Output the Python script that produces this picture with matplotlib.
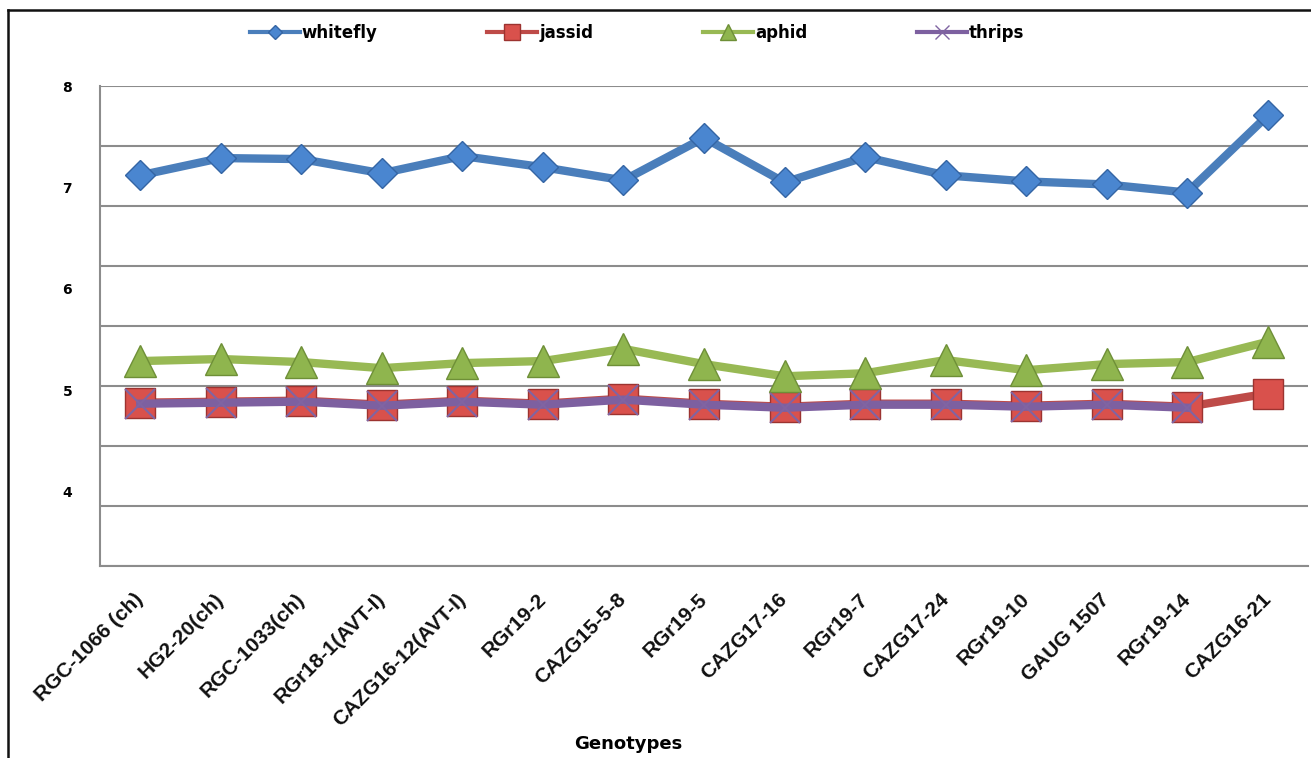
import numpy as np
import matplotlib
matplotlib.use("Agg")
import matplotlib.pyplot as plt
from matplotlib.lines import Line2D

genotypes = ["RGC-1066 (ch)", "HG2-20(ch)", "RGC-1033(ch)", "RGr18-1(AVT-I)",
             "CAZG16-12(AVT-I)", "RGr19-2", "CAZG15-5-8", "RGr19-5", "CAZG17-16",
             "RGr19-7", "CAZG17-24", "RGr19-10", "GAUG 1507", "RGr19-14", "CAZG16-21"]

whitefly = [7.12, 7.29, 7.28, 7.14, 7.31, 7.20, 7.07, 7.49, 7.05, 7.30, 7.12, 7.06, 7.03, 6.95, 7.71]
jassid = [4.88, 4.89, 4.90, 4.86, 4.90, 4.87, 4.92, 4.87, 4.84, 4.87, 4.87, 4.85, 4.87, 4.84, 4.97]
aphid = [5.29, 5.31, 5.28, 5.22, 5.27, 5.29, 5.41, 5.26, 5.14, 5.17, 5.30, 5.20, 5.26, 5.28, 5.48]
thrips = [4.87, 4.88, 4.89, 4.85, 4.89, 4.86, 4.91, 4.86, 4.83, 4.86, 4.86, 4.84, 4.86, 4.83, np.nan]

y_labels = [8, 7, 6, 5, 4]

W, H = 1311, 758
fig = plt.figure(figsize=(W / 100, H / 100), dpi=100)
ax = fig.add_axes([100 / W, 1 - 566 / H, 1208 / W, 480 / H])

x = np.arange(len(genotypes))

# line / marker styles per series
styles = [
    (whitefly, "whitefly", "#4a7ebb", dict(marker="D", ms=15, mfc="#4a86d0", mec="#3465a4", mew=1)),
    (jassid, "jassid", "#be4b48", dict(marker="s", ms=22, mfc="#d9514c", mec="#9c3330", mew=1)),
    (aphid, "aphid", "#98b954", dict(marker="^", ms=23, mfc="#8fb54e", mec="#6e8f37", mew=1)),
    (thrips, "thrips", "#7d60a0", dict(marker="x", ms=21, mec="#8064a2", mew=1.5)),
]

for vals, name, col, mk in styles:
    ax.plot(x, vals, color=col, lw=6, label=name, solid_joinstyle="miter", **mk)

ax.set_xlim(-0.5, len(genotypes) - 0.5)
top = 8.0
step = 60 / 101.5
ax.set_ylim(top - 8 * step, top)

# gridlines
ax.yaxis.remove_overlapping_locs = False
ax.set_yticks([top - k * step for k in range(9)])
ax.yaxis.set_major_formatter(plt.NullFormatter())
ax.tick_params(axis="y", which="major", length=0)
ax.grid(axis="y", color="#8c8c8c", lw=1.5)
ax.set_axisbelow(True)

# value labels
ax.set_yticks(y_labels, minor=True)
ax.set_yticklabels([str(v) for v in y_labels], minor=True, fontsize=10, fontweight="bold")
ax.tick_params(axis="y", which="minor", length=0, pad=20)

ax.set_xticks(x)
ax.set_xticklabels(genotypes, rotation=45, ha="right", va="center", rotation_mode="anchor",
                   fontsize=15, fontweight="bold", family="Liberation Sans", color="#111111")
ax.tick_params(axis="x", length=0, pad=22)

for s in ["top", "right"]:
    ax.spines[s].set_visible(False)
for s in ["left", "bottom"]:
    ax.spines[s].set_color("#8c8c8c")
    ax.spines[s].set_linewidth(1.5)

fig.text(628 / W, 1 - 744 / H, "Genotypes", fontsize=13, fontweight="bold",
         ha="center", va="center")

handles = [Line2D([], [], color=c, lw=3, marker=m["marker"], ms=m["ms"] * 0.5,
                  mfc=m.get("mfc", c), mec=m["mec"], mew=1) for _, _, c, m in styles]
fig.legend(handles, [s[1] for s in styles], loc="center", ncol=4, frameon=False,
           bbox_to_anchor=(637 / W, 1 - 33 / H), prop=dict(weight="bold", size=12),
           handlelength=3.0, handletextpad=0.1, columnspacing=6.6)

# outer frame (left and top edges visible)
fig.add_artist(Line2D([8 / W, 8 / W], [0, 1 - 10 / H], color="#111111", lw=1.8,
                      transform=fig.transFigure))
fig.add_artist(Line2D([8 / W, 1], [1 - 10 / H, 1 - 10 / H], color="#111111", lw=1.8,
                      transform=fig.transFigure))

fig.savefig("out.png", dpi=100)
